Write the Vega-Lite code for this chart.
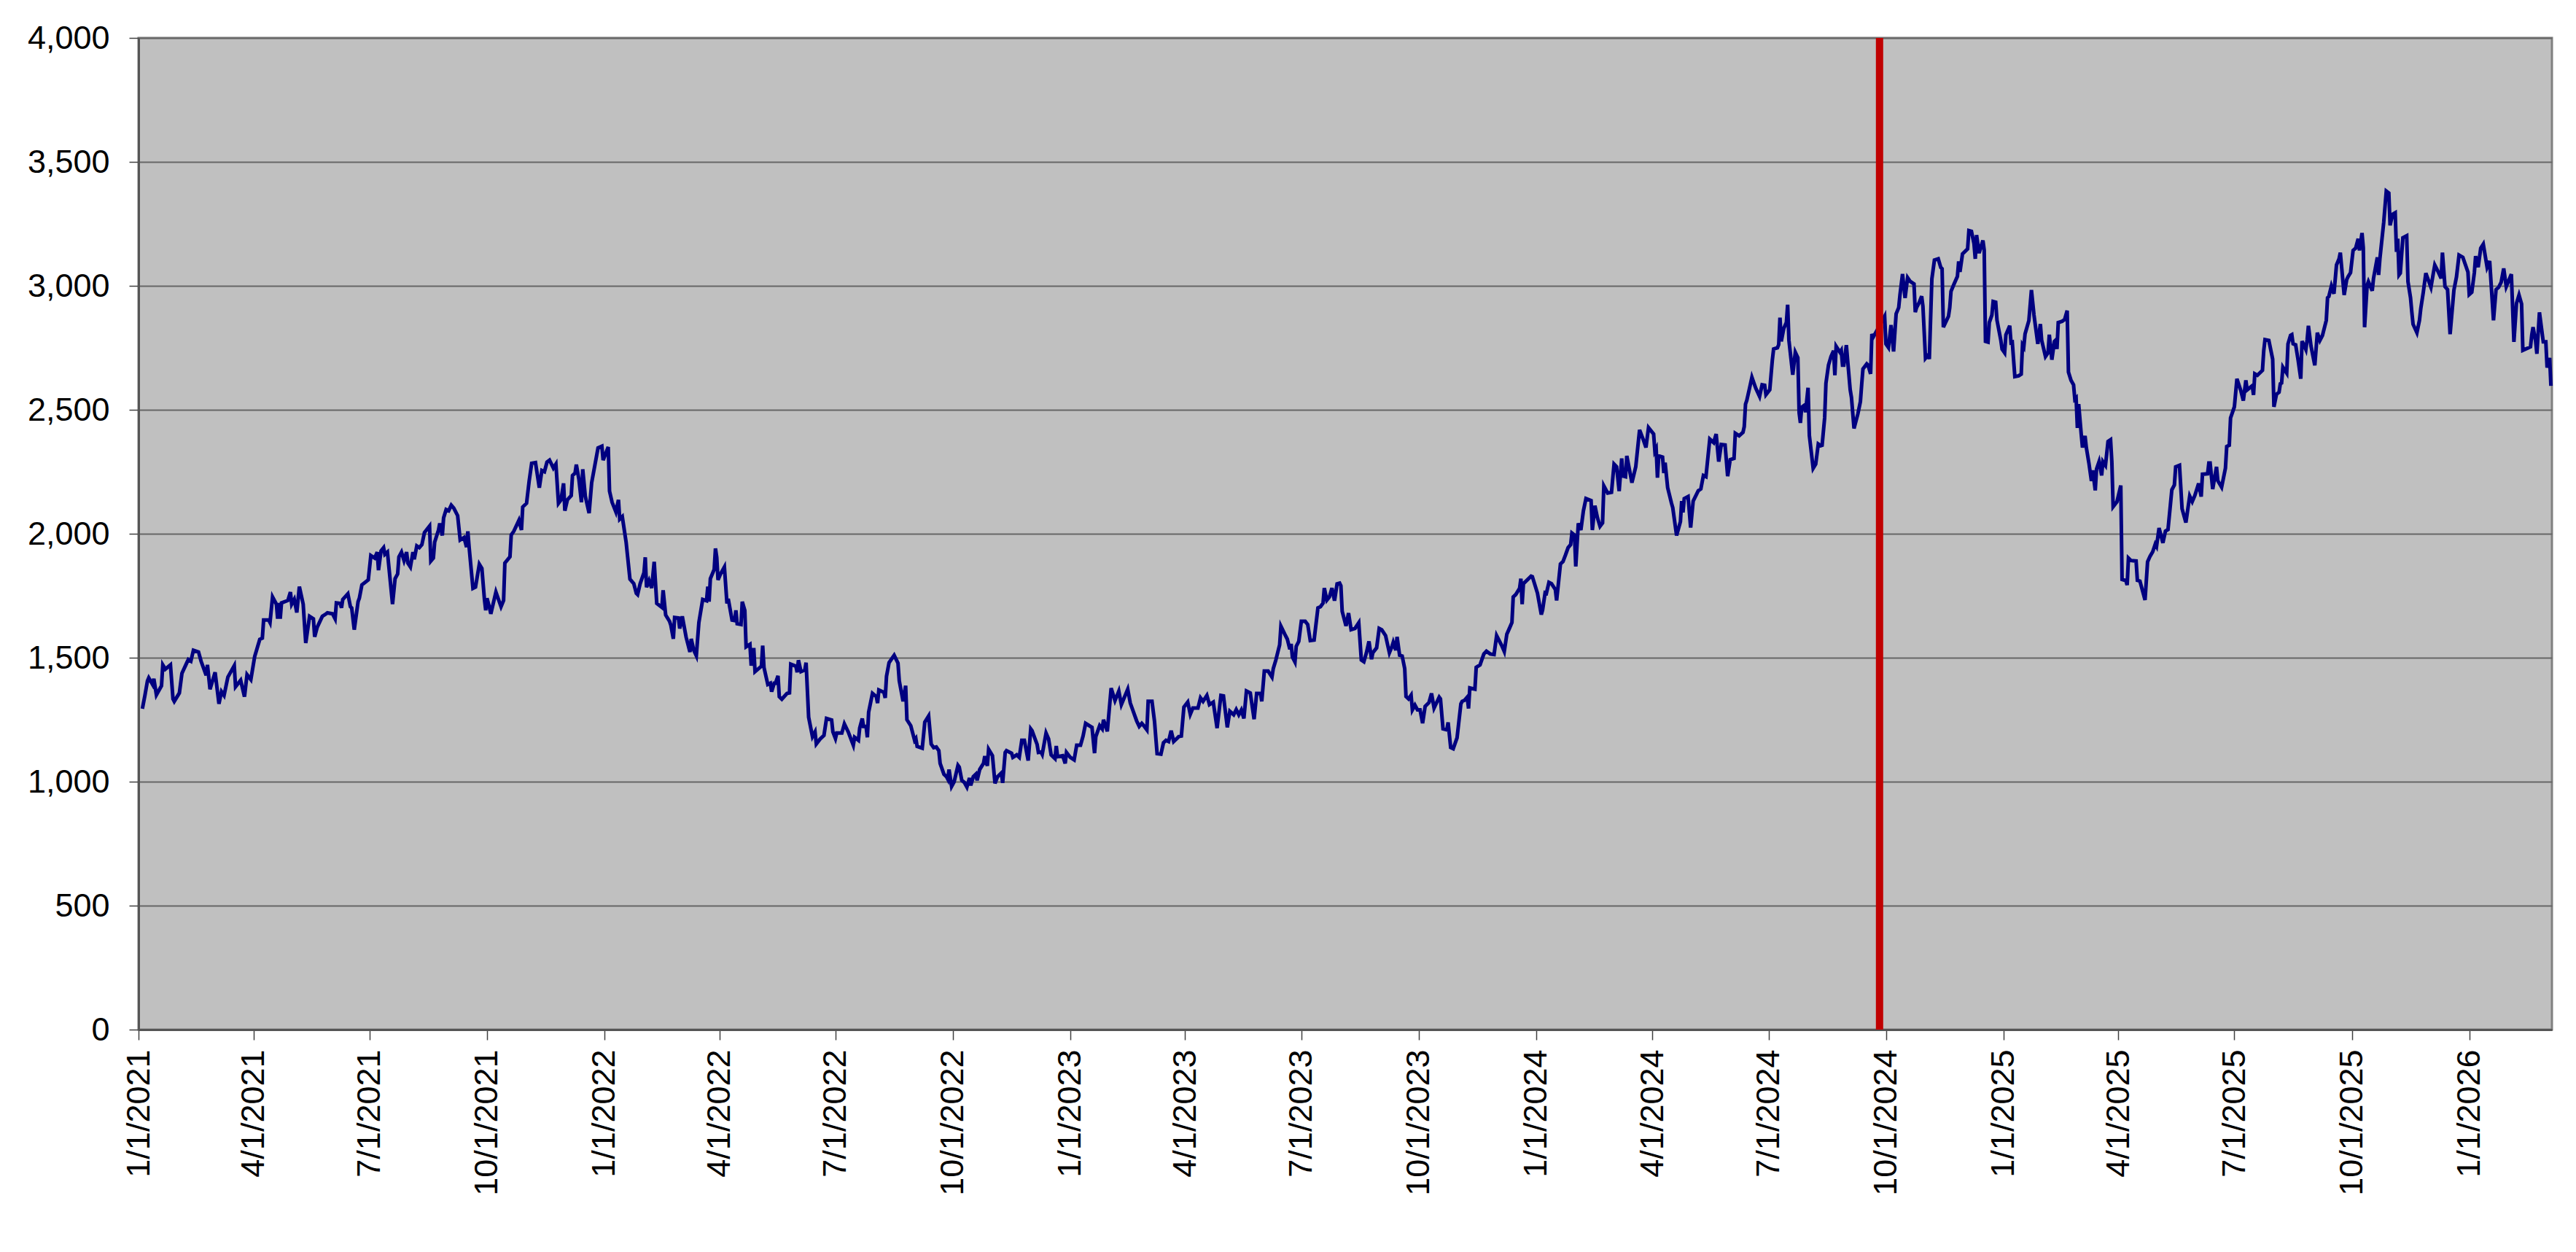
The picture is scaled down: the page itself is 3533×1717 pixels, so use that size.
{
"$schema":"https://vega.github.io/schema/vega-lite/v6.json",
"width":3310,"height":1360,
"autosize":"none",
"padding":{"left":190,"top":52,"right":33,"bottom":305},
"background":"white",
"config":{"font":"Liberation Sans","view":{"fill":"#C0C0C0","stroke":"#808080","strokeWidth":3},
"axis":{"labelFont":"Liberation Sans","labelFontSize":45,"labelColor":"#000000","labelLimit":500,"domainColor":"#555555","domainWidth":3,"tickColor":"#404040","tickWidth":1.5}},
"datasets":{
"marker":[{"d":"2024-09-26"}],
"series":[
{"d":"2021-01-04","v":1294},{"d":"2021-01-06","v":1348},{"d":"2021-01-08","v":1407},{"d":"2021-01-09","v":1419},{"d":"2021-01-12","v":1392},{"d":"2021-01-13","v":1415},{"d":"2021-01-15","v":1350},{"d":"2021-01-19","v":1387},{"d":"2021-01-20","v":1471},{"d":"2021-01-22","v":1454},{"d":"2021-01-26","v":1471},{"d":"2021-01-28","v":1334},{"d":"2021-01-29","v":1324},
{"d":"2021-02-02","v":1358},{"d":"2021-02-04","v":1437},{"d":"2021-02-09","v":1493},{"d":"2021-02-11","v":1486},{"d":"2021-02-13","v":1530},{"d":"2021-02-17","v":1523},{"d":"2021-02-19","v":1486},{"d":"2021-02-23","v":1429},{"d":"2021-02-24","v":1471},{"d":"2021-02-26","v":1373},
{"d":"2021-03-02","v":1441},{"d":"2021-03-05","v":1314},{"d":"2021-03-07","v":1363},{"d":"2021-03-09","v":1348},{"d":"2021-03-12","v":1422},{"d":"2021-03-17","v":1468},{"d":"2021-03-18","v":1383},{"d":"2021-03-22","v":1409},{"d":"2021-03-25","v":1343},{"d":"2021-03-27","v":1432},{"d":"2021-03-30","v":1412},
{"d":"2021-04-02","v":1505},{"d":"2021-04-06","v":1574},{"d":"2021-04-08","v":1579},{"d":"2021-04-09","v":1652},{"d":"2021-04-13","v":1652},{"d":"2021-04-14","v":1642},{"d":"2021-04-16","v":1745},{"d":"2021-04-19","v":1716},{"d":"2021-04-20","v":1657},{"d":"2021-04-21","v":1721},{"d":"2021-04-22","v":1657},{"d":"2021-04-23","v":1721},{"d":"2021-04-28","v":1731},{"d":"2021-04-30","v":1765},
{"d":"2021-05-01","v":1716},{"d":"2021-05-03","v":1735},{"d":"2021-05-05","v":1682},{"d":"2021-05-07","v":1787},{"d":"2021-05-10","v":1716},{"d":"2021-05-12","v":1559},{"d":"2021-05-15","v":1667},{"d":"2021-05-18","v":1657},{"d":"2021-05-19","v":1584},{"d":"2021-05-21","v":1623},{"d":"2021-05-25","v":1667},{"d":"2021-05-28","v":1677},{"d":"2021-05-29","v":1681},
{"d":"2021-06-02","v":1677},{"d":"2021-06-04","v":1657},{"d":"2021-06-05","v":1721},{"d":"2021-06-08","v":1719},{"d":"2021-06-09","v":1701},{"d":"2021-06-10","v":1735},{"d":"2021-06-14","v":1758},{"d":"2021-06-16","v":1706},{"d":"2021-06-17","v":1701},{"d":"2021-06-19","v":1613},{"d":"2021-06-22","v":1726},{"d":"2021-06-23","v":1740},{"d":"2021-06-25","v":1794},{"d":"2021-06-30","v":1814},
{"d":"2021-07-02","v":1912},{"d":"2021-07-05","v":1902},{"d":"2021-07-07","v":1926},{"d":"2021-07-08","v":1853},{"d":"2021-07-10","v":1931},{"d":"2021-07-12","v":1944},{"d":"2021-07-13","v":1917},{"d":"2021-07-15","v":1926},{"d":"2021-07-19","v":1716},{"d":"2021-07-21","v":1819},{"d":"2021-07-23","v":1838},{"d":"2021-07-24","v":1907},{"d":"2021-07-26","v":1926},{"d":"2021-07-28","v":1892},{"d":"2021-07-30","v":1926},{"d":"2021-07-31","v":1882},
{"d":"2021-08-02","v":1866},{"d":"2021-08-04","v":1926},{"d":"2021-08-05","v":1897},{"d":"2021-08-07","v":1951},{"d":"2021-08-09","v":1944},{"d":"2021-08-11","v":1956},{"d":"2021-08-13","v":2005},{"d":"2021-08-17","v":2031},{"d":"2021-08-18","v":1890},{"d":"2021-08-20","v":1902},{"d":"2021-08-21","v":1966},{"d":"2021-08-24","v":2015},{"d":"2021-08-25","v":2042},{"d":"2021-08-27","v":1993},{"d":"2021-08-28","v":2064},{"d":"2021-08-30","v":2098},
{"d":"2021-09-01","v":2093},{"d":"2021-09-03","v":2115},{"d":"2021-09-05","v":2103},{"d":"2021-09-08","v":2073},{"d":"2021-09-10","v":1975},{"d":"2021-09-13","v":1985},{"d":"2021-09-15","v":1946},{"d":"2021-09-16","v":2010},{"d":"2021-09-17","v":1946},{"d":"2021-09-20","v":1780},{"d":"2021-09-22","v":1785},{"d":"2021-09-25","v":1877},{"d":"2021-09-27","v":1860},{"d":"2021-09-29","v":1735},{"d":"2021-09-30","v":1691},
{"d":"2021-10-01","v":1740},{"d":"2021-10-03","v":1701},{"d":"2021-10-04","v":1677},{"d":"2021-10-08","v":1765},{"d":"2021-10-12","v":1706},{"d":"2021-10-14","v":1731},{"d":"2021-10-15","v":1882},{"d":"2021-10-19","v":1907},{"d":"2021-10-20","v":1995},{"d":"2021-10-22","v":2010},{"d":"2021-10-26","v":2054},{"d":"2021-10-28","v":2015},{"d":"2021-10-29","v":2108},
{"d":"2021-11-01","v":2123},{"d":"2021-11-03","v":2211},{"d":"2021-11-05","v":2284},{"d":"2021-11-08","v":2287},{"d":"2021-11-11","v":2186},{"d":"2021-11-13","v":2255},{"d":"2021-11-15","v":2250},{"d":"2021-11-17","v":2289},{"d":"2021-11-19","v":2297},{"d":"2021-11-22","v":2265},{"d":"2021-11-24","v":2281},{"d":"2021-11-26","v":2123},{"d":"2021-11-28","v":2137},{"d":"2021-11-30","v":2203},
{"d":"2021-12-01","v":2093},{"d":"2021-12-03","v":2137},{"d":"2021-12-06","v":2154},{"d":"2021-12-07","v":2235},{"d":"2021-12-09","v":2245},{"d":"2021-12-10","v":2279},{"d":"2021-12-12","v":2220},{"d":"2021-12-14","v":2127},{"d":"2021-12-15","v":2260},{"d":"2021-12-17","v":2152},{"d":"2021-12-20","v":2083},{"d":"2021-12-22","v":2206},{"d":"2021-12-27","v":2346},{"d":"2021-12-30","v":2353},{"d":"2021-12-31","v":2297},
{"d":"2022-01-04","v":2350},{"d":"2022-01-05","v":2172},{"d":"2022-01-07","v":2127},{"d":"2022-01-10","v":2088},{"d":"2022-01-12","v":2137},{"d":"2022-01-13","v":2059},{"d":"2022-01-15","v":2069},{"d":"2022-01-18","v":1966},{"d":"2022-01-21","v":1817},{"d":"2022-01-24","v":1799},{"d":"2022-01-26","v":1760},{"d":"2022-01-27","v":1755},{"d":"2022-01-29","v":1799},
{"d":"2022-02-01","v":1843},{"d":"2022-02-02","v":1905},{"d":"2022-02-03","v":1784},{"d":"2022-02-05","v":1811},{"d":"2022-02-07","v":1781},{"d":"2022-02-09","v":1887},{"d":"2022-02-11","v":1719},{"d":"2022-02-15","v":1703},{"d":"2022-02-16","v":1772},{"d":"2022-02-18","v":1672},{"d":"2022-02-21","v":1647},{"d":"2022-02-22","v":1632},{"d":"2022-02-24","v":1576},{"d":"2022-02-25","v":1662},{"d":"2022-02-28","v":1660},
{"d":"2022-03-01","v":1618},{"d":"2022-03-03","v":1667},{"d":"2022-03-06","v":1583},{"d":"2022-03-09","v":1523},{"d":"2022-03-10","v":1576},{"d":"2022-03-12","v":1530},{"d":"2022-03-14","v":1508},{"d":"2022-03-16","v":1642},{"d":"2022-03-19","v":1735},{"d":"2022-03-22","v":1730},{"d":"2022-03-23","v":1787},{"d":"2022-03-24","v":1726},{"d":"2022-03-25","v":1819},{"d":"2022-03-28","v":1856},{"d":"2022-03-29","v":1941},{"d":"2022-03-30","v":1905},{"d":"2022-03-31","v":1814},
{"d":"2022-04-02","v":1838},{"d":"2022-04-05","v":1866},{"d":"2022-04-07","v":1719},{"d":"2022-04-08","v":1738},{"d":"2022-04-11","v":1652},{"d":"2022-04-13","v":1650},{"d":"2022-04-14","v":1691},{"d":"2022-04-15","v":1637},{"d":"2022-04-18","v":1634},{"d":"2022-04-19","v":1726},{"d":"2022-04-21","v":1691},{"d":"2022-04-22","v":1544},{"d":"2022-04-25","v":1554},{"d":"2022-04-26","v":1468},{"d":"2022-04-28","v":1539},{"d":"2022-04-29","v":1444},
{"d":"2022-05-04","v":1466},{"d":"2022-05-05","v":1549},{"d":"2022-05-06","v":1461},{"d":"2022-05-09","v":1392},{"d":"2022-05-11","v":1397},{"d":"2022-05-12","v":1363},{"d":"2022-05-14","v":1397},{"d":"2022-05-15","v":1397},{"d":"2022-05-17","v":1427},{"d":"2022-05-18","v":1343},{"d":"2022-05-20","v":1333},{"d":"2022-05-24","v":1356},{"d":"2022-05-26","v":1358},{"d":"2022-05-27","v":1474},{"d":"2022-05-31","v":1466},
{"d":"2022-06-01","v":1441},{"d":"2022-06-02","v":1490},{"d":"2022-06-04","v":1444},{"d":"2022-06-07","v":1451},{"d":"2022-06-08","v":1480},{"d":"2022-06-10","v":1260},{"d":"2022-06-13","v":1182},{"d":"2022-06-15","v":1201},{"d":"2022-06-16","v":1152},{"d":"2022-06-19","v":1172},{"d":"2022-06-22","v":1187},{"d":"2022-06-24","v":1255},{"d":"2022-06-28","v":1249},{"d":"2022-06-29","v":1201},
{"d":"2022-07-01","v":1174},{"d":"2022-07-02","v":1196},{"d":"2022-07-06","v":1196},{"d":"2022-07-08","v":1233},{"d":"2022-07-11","v":1201},{"d":"2022-07-15","v":1147},{"d":"2022-07-16","v":1179},{"d":"2022-07-19","v":1167},{"d":"2022-07-20","v":1216},{"d":"2022-07-22","v":1255},{"d":"2022-07-23","v":1223},{"d":"2022-07-25","v":1223},{"d":"2022-07-26","v":1179},{"d":"2022-07-27","v":1280},{"d":"2022-07-30","v":1356},
{"d":"2022-08-02","v":1343},{"d":"2022-08-03","v":1317},{"d":"2022-08-04","v":1370},{"d":"2022-08-08","v":1360},{"d":"2022-08-09","v":1338},{"d":"2022-08-10","v":1425},{"d":"2022-08-12","v":1480},{"d":"2022-08-16","v":1510},{"d":"2022-08-19","v":1478},{"d":"2022-08-20","v":1407},{"d":"2022-08-23","v":1324},{"d":"2022-08-25","v":1387},{"d":"2022-08-26","v":1250},{"d":"2022-08-29","v":1226},
{"d":"2022-09-01","v":1167},{"d":"2022-09-02","v":1174},{"d":"2022-09-03","v":1142},{"d":"2022-09-07","v":1135},{"d":"2022-09-08","v":1186},{"d":"2022-09-09","v":1240},{"d":"2022-09-12","v":1265},{"d":"2022-09-14","v":1152},{"d":"2022-09-16","v":1137},{"d":"2022-09-18","v":1140},{"d":"2022-09-20","v":1125},{"d":"2022-09-21","v":1074},{"d":"2022-09-24","v":1030},{"d":"2022-09-26","v":1020},{"d":"2022-09-27","v":1010},{"d":"2022-09-28","v":1049},{"d":"2022-09-30","v":981},
{"d":"2022-10-02","v":1000},{"d":"2022-10-05","v":1066},{"d":"2022-10-06","v":1059},{"d":"2022-10-08","v":1005},{"d":"2022-10-10","v":997},{"d":"2022-10-12","v":978},{"d":"2022-10-14","v":1015},{"d":"2022-10-15","v":985},{"d":"2022-10-17","v":1020},{"d":"2022-10-19","v":1030},{"d":"2022-10-20","v":1005},{"d":"2022-10-22","v":1049},{"d":"2022-10-25","v":1074},{"d":"2022-10-26","v":1103},{"d":"2022-10-28","v":1064},{"d":"2022-10-29","v":1131},
{"d":"2022-11-01","v":1105},{"d":"2022-11-03","v":993},{"d":"2022-11-05","v":1020},{"d":"2022-11-08","v":1035},{"d":"2022-11-09","v":995},{"d":"2022-11-11","v":1118},{"d":"2022-11-12","v":1125},{"d":"2022-11-16","v":1115},{"d":"2022-11-17","v":1098},{"d":"2022-11-20","v":1108},{"d":"2022-11-22","v":1098},{"d":"2022-11-24","v":1167},{"d":"2022-11-26","v":1167},{"d":"2022-11-29","v":1085},
{"d":"2022-12-01","v":1213},{"d":"2022-12-02","v":1206},{"d":"2022-12-06","v":1150},{"d":"2022-12-07","v":1118},{"d":"2022-12-09","v":1120},{"d":"2022-12-10","v":1110},{"d":"2022-12-13","v":1196},{"d":"2022-12-15","v":1172},{"d":"2022-12-17","v":1108},{"d":"2022-12-20","v":1093},{"d":"2022-12-21","v":1144},{"d":"2022-12-22","v":1101},{"d":"2022-12-26","v":1105},{"d":"2022-12-28","v":1074},{"d":"2022-12-29","v":1118},
{"d":"2023-01-01","v":1098},{"d":"2023-01-04","v":1088},{"d":"2023-01-06","v":1147},{"d":"2023-01-09","v":1147},{"d":"2023-01-11","v":1184},{"d":"2023-01-13","v":1235},{"d":"2023-01-18","v":1219},{"d":"2023-01-20","v":1115},{"d":"2023-01-21","v":1182},{"d":"2023-01-24","v":1226},{"d":"2023-01-26","v":1213},{"d":"2023-01-27","v":1250},{"d":"2023-01-30","v":1203},
{"d":"2023-02-02","v":1377},{"d":"2023-02-05","v":1327},{"d":"2023-02-08","v":1365},{"d":"2023-02-10","v":1311},{"d":"2023-02-15","v":1373},{"d":"2023-02-17","v":1317},{"d":"2023-02-22","v":1245},{"d":"2023-02-24","v":1223},{"d":"2023-02-26","v":1235},{"d":"2023-02-28","v":1223},
{"d":"2023-03-02","v":1209},{"d":"2023-03-03","v":1324},{"d":"2023-03-06","v":1324},{"d":"2023-03-08","v":1242},{"d":"2023-03-10","v":1113},{"d":"2023-03-13","v":1111},{"d":"2023-03-15","v":1157},{"d":"2023-03-17","v":1167},{"d":"2023-03-19","v":1162},{"d":"2023-03-21","v":1206},{"d":"2023-03-23","v":1162},{"d":"2023-03-27","v":1182},{"d":"2023-03-29","v":1184},{"d":"2023-03-31","v":1301},
{"d":"2023-04-03","v":1321},{"d":"2023-04-05","v":1272},{"d":"2023-04-07","v":1297},{"d":"2023-04-11","v":1297},{"d":"2023-04-13","v":1338},{"d":"2023-04-15","v":1324},{"d":"2023-04-18","v":1348},{"d":"2023-04-20","v":1311},{"d":"2023-04-23","v":1321},{"d":"2023-04-26","v":1216},{"d":"2023-04-29","v":1348},
{"d":"2023-05-01","v":1346},{"d":"2023-05-04","v":1219},{"d":"2023-05-06","v":1284},{"d":"2023-05-09","v":1270},{"d":"2023-05-11","v":1291},{"d":"2023-05-13","v":1270},{"d":"2023-05-15","v":1289},{"d":"2023-05-17","v":1255},{"d":"2023-05-19","v":1366},{"d":"2023-05-22","v":1358},{"d":"2023-05-25","v":1252},{"d":"2023-05-27","v":1356},{"d":"2023-05-30","v":1356},{"d":"2023-05-31","v":1324},
{"d":"2023-06-02","v":1446},{"d":"2023-06-05","v":1446},{"d":"2023-06-08","v":1422},{"d":"2023-06-09","v":1456},{"d":"2023-06-11","v":1490},{"d":"2023-06-14","v":1552},{"d":"2023-06-15","v":1627},{"d":"2023-06-18","v":1595},{"d":"2023-06-20","v":1575},{"d":"2023-06-22","v":1534},{"d":"2023-06-23","v":1556},{"d":"2023-06-24","v":1503},{"d":"2023-06-26","v":1483},{"d":"2023-06-27","v":1546},{"d":"2023-06-29","v":1566},
{"d":"2023-07-01","v":1647},{"d":"2023-07-04","v":1647},{"d":"2023-07-06","v":1634},{"d":"2023-07-08","v":1569},{"d":"2023-07-11","v":1571},{"d":"2023-07-14","v":1701},{"d":"2023-07-16","v":1706},{"d":"2023-07-18","v":1720},{"d":"2023-07-19","v":1781},{"d":"2023-07-21","v":1732},{"d":"2023-07-23","v":1745},{"d":"2023-07-25","v":1781},{"d":"2023-07-27","v":1730},{"d":"2023-07-29","v":1798},{"d":"2023-07-31","v":1801},
{"d":"2023-08-01","v":1790},{"d":"2023-08-02","v":1687},{"d":"2023-08-05","v":1628},{"d":"2023-08-07","v":1680},{"d":"2023-08-09","v":1613},{"d":"2023-08-12","v":1618},{"d":"2023-08-15","v":1641},{"d":"2023-08-17","v":1491},{"d":"2023-08-19","v":1484},{"d":"2023-08-21","v":1520},{"d":"2023-08-23","v":1566},{"d":"2023-08-25","v":1494},{"d":"2023-08-26","v":1520},{"d":"2023-08-29","v":1540},{"d":"2023-08-31","v":1618},
{"d":"2023-09-02","v":1613},{"d":"2023-09-05","v":1589},{"d":"2023-09-08","v":1520},{"d":"2023-09-10","v":1545},{"d":"2023-09-11","v":1562},{"d":"2023-09-13","v":1530},{"d":"2023-09-14","v":1584},{"d":"2023-09-16","v":1510},{"d":"2023-09-18","v":1507},{"d":"2023-09-20","v":1456},{"d":"2023-09-21","v":1344},{"d":"2023-09-23","v":1334},{"d":"2023-09-25","v":1349},{"d":"2023-09-26","v":1290},{"d":"2023-09-28","v":1309},{"d":"2023-09-30","v":1290},
{"d":"2023-10-02","v":1290},{"d":"2023-10-04","v":1236},{"d":"2023-10-06","v":1304},{"d":"2023-10-09","v":1319},{"d":"2023-10-11","v":1356},{"d":"2023-10-13","v":1297},{"d":"2023-10-17","v":1341},{"d":"2023-10-18","v":1334},{"d":"2023-10-20","v":1213},{"d":"2023-10-23","v":1209},{"d":"2023-10-24","v":1239},{"d":"2023-10-26","v":1138},{"d":"2023-10-28","v":1133},{"d":"2023-10-31","v":1177},
{"d":"2023-11-03","v":1314},{"d":"2023-11-04","v":1324},{"d":"2023-11-06","v":1329},{"d":"2023-11-08","v":1341},{"d":"2023-11-09","v":1295},{"d":"2023-11-10","v":1378},{"d":"2023-11-14","v":1373},{"d":"2023-11-15","v":1461},{"d":"2023-11-18","v":1471},{"d":"2023-11-21","v":1515},{"d":"2023-11-23","v":1526},{"d":"2023-11-26","v":1515},{"d":"2023-11-29","v":1513},
{"d":"2023-12-01","v":1589},{"d":"2023-12-05","v":1549},{"d":"2023-12-07","v":1525},{"d":"2023-12-09","v":1595},{"d":"2023-12-11","v":1618},{"d":"2023-12-13","v":1642},{"d":"2023-12-14","v":1745},{"d":"2023-12-16","v":1755},{"d":"2023-12-19","v":1780},{"d":"2023-12-20","v":1819},{"d":"2023-12-21","v":1716},{"d":"2023-12-22","v":1799},{"d":"2023-12-28","v":1829},{"d":"2023-12-29","v":1827},
{"d":"2024-01-02","v":1760},{"d":"2024-01-05","v":1674},{"d":"2024-01-06","v":1692},{"d":"2024-01-08","v":1762},{"d":"2024-01-09","v":1760},{"d":"2024-01-11","v":1804},{"d":"2024-01-13","v":1799},{"d":"2024-01-16","v":1775},{"d":"2024-01-17","v":1731},{"d":"2024-01-20","v":1878},{"d":"2024-01-22","v":1888},{"d":"2024-01-24","v":1915},{"d":"2024-01-26","v":1944},{"d":"2024-01-28","v":1956},{"d":"2024-01-29","v":2003},{"d":"2024-01-31","v":1995},
{"d":"2024-02-01","v":1868},{"d":"2024-02-03","v":2042},{"d":"2024-02-05","v":2015},{"d":"2024-02-07","v":2093},{"d":"2024-02-09","v":2142},{"d":"2024-02-13","v":2134},{"d":"2024-02-14","v":2015},{"d":"2024-02-16","v":2113},{"d":"2024-02-18","v":2064},{"d":"2024-02-20","v":2030},{"d":"2024-02-22","v":2044},{"d":"2024-02-23","v":2193},{"d":"2024-02-26","v":2164},{"d":"2024-02-29","v":2167},
{"d":"2024-03-02","v":2281},{"d":"2024-03-04","v":2270},{"d":"2024-03-06","v":2172},{"d":"2024-03-08","v":2304},{"d":"2024-03-09","v":2233},{"d":"2024-03-11","v":2230},{"d":"2024-03-12","v":2314},{"d":"2024-03-16","v":2206},{"d":"2024-03-19","v":2270},{"d":"2024-03-22","v":2419},{"d":"2024-03-25","v":2378},{"d":"2024-03-27","v":2348},{"d":"2024-03-29","v":2428},
{"d":"2024-04-02","v":2402},{"d":"2024-04-03","v":2333},{"d":"2024-04-04","v":2343},{"d":"2024-04-05","v":2226},{"d":"2024-04-06","v":2314},{"d":"2024-04-09","v":2309},{"d":"2024-04-10","v":2245},{"d":"2024-04-11","v":2287},{"d":"2024-04-13","v":2186},{"d":"2024-04-16","v":2123},{"d":"2024-04-17","v":2105},{"d":"2024-04-20","v":1993},{"d":"2024-04-23","v":2049},{"d":"2024-04-24","v":2132},{"d":"2024-04-25","v":2086},{"d":"2024-04-26","v":2142},{"d":"2024-04-29","v":2150},
{"d":"2024-05-01","v":2025},{"d":"2024-05-03","v":2132},{"d":"2024-05-07","v":2174},{"d":"2024-05-09","v":2181},{"d":"2024-05-11","v":2235},{"d":"2024-05-13","v":2230},{"d":"2024-05-16","v":2382},{"d":"2024-05-19","v":2368},{"d":"2024-05-21","v":2402},{"d":"2024-05-23","v":2291},{"d":"2024-05-25","v":2360},{"d":"2024-05-28","v":2358},{"d":"2024-05-30","v":2232},
{"d":"2024-06-01","v":2299},{"d":"2024-06-04","v":2304},{"d":"2024-06-05","v":2405},{"d":"2024-06-08","v":2395},{"d":"2024-06-11","v":2409},{"d":"2024-06-12","v":2432},{"d":"2024-06-13","v":2523},{"d":"2024-06-14","v":2538},{"d":"2024-06-16","v":2584},{"d":"2024-06-18","v":2631},{"d":"2024-06-21","v":2587},{"d":"2024-06-24","v":2554},{"d":"2024-06-26","v":2601},{"d":"2024-06-28","v":2599},{"d":"2024-06-29","v":2561},
{"d":"2024-07-02","v":2581},{"d":"2024-07-04","v":2700},{"d":"2024-07-05","v":2745},{"d":"2024-07-08","v":2750},{"d":"2024-07-09","v":2763},{"d":"2024-07-10","v":2872},{"d":"2024-07-11","v":2776},{"d":"2024-07-13","v":2829},{"d":"2024-07-15","v":2852},{"d":"2024-07-16","v":2924},{"d":"2024-07-17","v":2781},{"d":"2024-07-20","v":2641},{"d":"2024-07-22","v":2732},{"d":"2024-07-24","v":2710},{"d":"2024-07-25","v":2488},{"d":"2024-07-26","v":2447},{"d":"2024-07-27","v":2510},{"d":"2024-07-29","v":2518},{"d":"2024-07-30","v":2490},
{"d":"2024-08-01","v":2589},{"d":"2024-08-02","v":2397},{"d":"2024-08-05","v":2264},{"d":"2024-08-07","v":2281},{"d":"2024-08-09","v":2362},{"d":"2024-08-11","v":2355},{"d":"2024-08-12","v":2357},{"d":"2024-08-14","v":2468},{"d":"2024-08-15","v":2607},{"d":"2024-08-17","v":2680},{"d":"2024-08-19","v":2715},{"d":"2024-08-21","v":2738},{"d":"2024-08-22","v":2639},{"d":"2024-08-23","v":2756},{"d":"2024-08-26","v":2732},{"d":"2024-08-27","v":2740},{"d":"2024-08-28","v":2680},{"d":"2024-08-29","v":2680},{"d":"2024-08-31","v":2761},
{"d":"2024-09-01","v":2700},{"d":"2024-09-03","v":2581},{"d":"2024-09-04","v":2550},{"d":"2024-09-06","v":2425},{"d":"2024-09-09","v":2483},{"d":"2024-09-11","v":2533},{"d":"2024-09-12","v":2601},{"d":"2024-09-13","v":2665},{"d":"2024-09-16","v":2685},{"d":"2024-09-17","v":2680},{"d":"2024-09-19","v":2645},{"d":"2024-09-20","v":2806},{"d":"2024-09-21","v":2793},{"d":"2024-09-23","v":2811},{"d":"2024-09-30","v":2877},
{"d":"2024-10-01","v":2766},{"d":"2024-10-03","v":2751},{"d":"2024-10-05","v":2842},{"d":"2024-10-07","v":2735},{"d":"2024-10-09","v":2887},{"d":"2024-10-11","v":2912},{"d":"2024-10-12","v":2963},{"d":"2024-10-14","v":3048},{"d":"2024-10-16","v":2951},{"d":"2024-10-18","v":3033},{"d":"2024-10-20","v":3018},{"d":"2024-10-23","v":3008},{"d":"2024-10-24","v":2894},{"d":"2024-10-25","v":2912},{"d":"2024-10-27","v":2932},{"d":"2024-10-29","v":2958},{"d":"2024-10-30","v":2917},
{"d":"2024-11-01","v":2708},{"d":"2024-11-03","v":2720},{"d":"2024-11-04","v":2705},{"d":"2024-11-06","v":3028},{"d":"2024-11-08","v":3104},{"d":"2024-11-11","v":3109},{"d":"2024-11-13","v":3074},{"d":"2024-11-14","v":3069},{"d":"2024-11-15","v":2833},{"d":"2024-11-19","v":2877},{"d":"2024-11-20","v":2912},{"d":"2024-11-21","v":2978},{"d":"2024-11-23","v":3003},{"d":"2024-11-26","v":3038},{"d":"2024-11-27","v":3099},{"d":"2024-11-28","v":3056},{"d":"2024-11-30","v":3129},
{"d":"2024-12-04","v":3149},{"d":"2024-12-05","v":3223},{"d":"2024-12-07","v":3220},{"d":"2024-12-09","v":3170},{"d":"2024-12-10","v":3109},{"d":"2024-12-11","v":3205},{"d":"2024-12-13","v":3132},{"d":"2024-12-14","v":3149},{"d":"2024-12-16","v":3183},{"d":"2024-12-17","v":3144},{"d":"2024-12-18","v":2776},{"d":"2024-12-20","v":2773},{"d":"2024-12-21","v":2852},{"d":"2024-12-23","v":2882},{"d":"2024-12-24","v":2937},{"d":"2024-12-26","v":2934},{"d":"2024-12-27","v":2862},{"d":"2024-12-30","v":2781},{"d":"2024-12-31","v":2745},
{"d":"2025-01-02","v":2730},{"d":"2025-01-03","v":2803},{"d":"2025-01-06","v":2839},{"d":"2025-01-07","v":2771},{"d":"2025-01-08","v":2773},{"d":"2025-01-10","v":2634},{"d":"2025-01-13","v":2637},{"d":"2025-01-15","v":2644},{"d":"2025-01-16","v":2761},{"d":"2025-01-17","v":2753},{"d":"2025-01-18","v":2806},{"d":"2025-01-21","v":2860},{"d":"2025-01-23","v":2983},{"d":"2025-01-25","v":2882},{"d":"2025-01-28","v":2766},{"d":"2025-01-30","v":2846},{"d":"2025-01-31","v":2781},
{"d":"2025-02-03","v":2715},{"d":"2025-02-05","v":2730},{"d":"2025-02-06","v":2803},{"d":"2025-02-08","v":2702},{"d":"2025-02-10","v":2776},{"d":"2025-02-11","v":2781},{"d":"2025-02-12","v":2745},{"d":"2025-02-13","v":2852},{"d":"2025-02-16","v":2857},{"d":"2025-02-18","v":2864},{"d":"2025-02-20","v":2900},{"d":"2025-02-21","v":2652},{"d":"2025-02-23","v":2619},{"d":"2025-02-25","v":2601},{"d":"2025-02-26","v":2543},{"d":"2025-02-27","v":2548},{"d":"2025-02-28","v":2427},
{"d":"2025-03-01","v":2523},{"d":"2025-03-03","v":2402},{"d":"2025-03-04","v":2348},{"d":"2025-03-06","v":2395},{"d":"2025-03-07","v":2348},{"d":"2025-03-09","v":2286},{"d":"2025-03-11","v":2213},{"d":"2025-03-12","v":2256},{"d":"2025-03-14","v":2175},{"d":"2025-03-15","v":2261},{"d":"2025-03-17","v":2291},{"d":"2025-03-19","v":2235},{"d":"2025-03-20","v":2291},{"d":"2025-03-22","v":2276},{"d":"2025-03-24","v":2372},{"d":"2025-03-26","v":2379},{"d":"2025-03-27","v":2291},{"d":"2025-03-28","v":2109},{"d":"2025-03-31","v":2129},
{"d":"2025-04-03","v":2195},{"d":"2025-04-04","v":1816},{"d":"2025-04-07","v":1811},{"d":"2025-04-08","v":1793},{"d":"2025-04-09","v":1902},{"d":"2025-04-11","v":1892},{"d":"2025-04-15","v":1890},{"d":"2025-04-16","v":1812},{"d":"2025-04-18","v":1809},{"d":"2025-04-22","v":1733},{"d":"2025-04-24","v":1887},{"d":"2025-04-26","v":1910},{"d":"2025-04-28","v":1927},{"d":"2025-04-30","v":1958},
{"d":"2025-05-01","v":1949},{"d":"2025-05-03","v":2023},{"d":"2025-05-06","v":1963},{"d":"2025-05-08","v":2011},{"d":"2025-05-10","v":2017},{"d":"2025-05-13","v":2177},{"d":"2025-05-15","v":2197},{"d":"2025-05-16","v":2270},{"d":"2025-05-19","v":2276},{"d":"2025-05-21","v":2101},{"d":"2025-05-24","v":2045},{"d":"2025-05-27","v":2152},{"d":"2025-05-29","v":2130},{"d":"2025-05-31","v":2154},
{"d":"2025-06-03","v":2203},{"d":"2025-06-05","v":2150},{"d":"2025-06-06","v":2240},{"d":"2025-06-10","v":2242},{"d":"2025-06-11","v":2285},{"d":"2025-06-12","v":2285},{"d":"2025-06-14","v":2180},{"d":"2025-06-17","v":2270},{"d":"2025-06-18","v":2214},{"d":"2025-06-21","v":2188},{"d":"2025-06-24","v":2265},{"d":"2025-06-25","v":2352},{"d":"2025-06-27","v":2357},{"d":"2025-06-28","v":2467},
{"d":"2025-07-01","v":2512},{"d":"2025-07-03","v":2625},{"d":"2025-07-06","v":2578},{"d":"2025-07-08","v":2537},{"d":"2025-07-10","v":2619},{"d":"2025-07-11","v":2580},{"d":"2025-07-15","v":2597},{"d":"2025-07-16","v":2560},{"d":"2025-07-17","v":2645},{"d":"2025-07-19","v":2639},{"d":"2025-07-23","v":2659},{"d":"2025-07-24","v":2738},{"d":"2025-07-25","v":2783},{"d":"2025-07-28","v":2780},{"d":"2025-07-31","v":2704},
{"d":"2025-08-01","v":2512},{"d":"2025-08-03","v":2563},{"d":"2025-08-05","v":2571},{"d":"2025-08-06","v":2605},{"d":"2025-08-07","v":2608},{"d":"2025-08-08","v":2672},{"d":"2025-08-11","v":2648},{"d":"2025-08-12","v":2766},{"d":"2025-08-14","v":2800},{"d":"2025-08-15","v":2803},{"d":"2025-08-16","v":2766},{"d":"2025-08-18","v":2762},{"d":"2025-08-20","v":2698},{"d":"2025-08-22","v":2625},{"d":"2025-08-23","v":2777},{"d":"2025-08-24","v":2766},{"d":"2025-08-26","v":2743},{"d":"2025-08-27","v":2783},{"d":"2025-08-28","v":2839},{"d":"2025-08-30","v":2758},
{"d":"2025-09-02","v":2679},{"d":"2025-09-04","v":2811},{"d":"2025-09-06","v":2780},{"d":"2025-09-08","v":2800},{"d":"2025-09-11","v":2861},{"d":"2025-09-12","v":2952},{"d":"2025-09-13","v":2957},{"d":"2025-09-15","v":2999},{"d":"2025-09-17","v":2968},{"d":"2025-09-19","v":3084},{"d":"2025-09-21","v":3109},{"d":"2025-09-22","v":3134},{"d":"2025-09-25","v":2963},{"d":"2025-09-27","v":3025},{"d":"2025-09-28","v":3036},{"d":"2025-09-30","v":3053},
{"d":"2025-10-02","v":3143},{"d":"2025-10-04","v":3152},{"d":"2025-10-06","v":3190},{"d":"2025-10-07","v":3143},{"d":"2025-10-09","v":3213},{"d":"2025-10-10","v":3154},{"d":"2025-10-11","v":2833},{"d":"2025-10-13","v":3002},{"d":"2025-10-14","v":3017},{"d":"2025-10-17","v":2980},{"d":"2025-10-18","v":3030},{"d":"2025-10-21","v":3115},{"d":"2025-10-22","v":3044},{"d":"2025-10-23","v":3109},{"d":"2025-10-26","v":3256},{"d":"2025-10-28","v":3382},{"d":"2025-10-30","v":3374},{"d":"2025-10-31","v":3244},
{"d":"2025-11-02","v":3289},{"d":"2025-11-04","v":3295},{"d":"2025-11-05","v":3137},{"d":"2025-11-06","v":3190},{"d":"2025-11-07","v":3044},{"d":"2025-11-08","v":3051},{"d":"2025-11-10","v":3194},{"d":"2025-11-13","v":3202},{"d":"2025-11-14","v":3017},{"d":"2025-11-16","v":2952},{"d":"2025-11-17","v":2895},{"d":"2025-11-18","v":2845},{"d":"2025-11-21","v":2811},{"d":"2025-11-23","v":2861},{"d":"2025-11-24","v":2907},{"d":"2025-11-26","v":2974},{"d":"2025-11-28","v":3051},
{"d":"2025-12-02","v":2994},{"d":"2025-12-04","v":3055},{"d":"2025-12-05","v":3084},{"d":"2025-12-07","v":3064},{"d":"2025-12-10","v":3030},{"d":"2025-12-11","v":3134},{"d":"2025-12-13","v":2997},{"d":"2025-12-15","v":2985},{"d":"2025-12-17","v":2805},{"d":"2025-12-20","v":2983},{"d":"2025-12-22","v":3036},{"d":"2025-12-24","v":3124},{"d":"2025-12-27","v":3115},{"d":"2025-12-31","v":3055},
{"d":"2026-01-01","v":2965},{"d":"2026-01-03","v":2974},{"d":"2026-01-05","v":3053},{"d":"2026-01-06","v":3120},{"d":"2026-01-08","v":3075},{"d":"2026-01-10","v":3152},{"d":"2026-01-12","v":3168},{"d":"2026-01-15","v":3075},{"d":"2026-01-17","v":3100},{"d":"2026-01-20","v":2861},{"d":"2026-01-22","v":2985},{"d":"2026-01-24","v":2994},{"d":"2026-01-26","v":3014},{"d":"2026-01-28","v":3070},{"d":"2026-01-30","v":2997},
{"d":"2026-02-03","v":3047},{"d":"2026-02-05","v":2774},{"d":"2026-02-07","v":2929},{"d":"2026-02-09","v":2963},{"d":"2026-02-11","v":2927},{"d":"2026-02-12","v":2740},{"d":"2026-02-16","v":2749},{"d":"2026-02-18","v":2754},{"d":"2026-02-19","v":2803},{"d":"2026-02-20","v":2833},{"d":"2026-02-22","v":2777},{"d":"2026-02-23","v":2726},{"d":"2026-02-25","v":2893},{"d":"2026-02-28","v":2774},
{"d":"2026-03-02","v":2774},{"d":"2026-03-03","v":2670},{"d":"2026-03-05","v":2709},{"d":"2026-03-06","v":2597}
]},
"layer":[
{"data":{"name":"series"},
"mark":{"type":"line","color":"#000080","strokeWidth":5,"interpolate":"linear"},
"encoding":{
"x":{"field":"d","type":"temporal","title":null,
"scale":{"type":"utc","domain":[{"year":2021,"month":1,"date":1,"utc":true},{"year":2026,"month":3,"date":6,"hours":19,"utc":true}]},
"axis":{"values":[
{"year":2021,"month":1,"date":1,"utc":true},{"year":2021,"month":4,"date":1,"utc":true},{"year":2021,"month":7,"date":1,"utc":true},{"year":2021,"month":10,"date":1,"utc":true},
{"year":2022,"month":1,"date":1,"utc":true},{"year":2022,"month":4,"date":1,"utc":true},{"year":2022,"month":7,"date":1,"utc":true},{"year":2022,"month":10,"date":1,"utc":true},
{"year":2023,"month":1,"date":1,"utc":true},{"year":2023,"month":4,"date":1,"utc":true},{"year":2023,"month":7,"date":1,"utc":true},{"year":2023,"month":10,"date":1,"utc":true},
{"year":2024,"month":1,"date":1,"utc":true},{"year":2024,"month":4,"date":1,"utc":true},{"year":2024,"month":7,"date":1,"utc":true},{"year":2024,"month":10,"date":1,"utc":true},
{"year":2025,"month":1,"date":1,"utc":true},{"year":2025,"month":4,"date":1,"utc":true},{"year":2025,"month":7,"date":1,"utc":true},{"year":2025,"month":10,"date":1,"utc":true},
{"year":2026,"month":1,"date":1,"utc":true}],
"labelExpr":"utcFormat(datum.value, '%-m/%-d/%Y')","labelAngle":270,"tickSize":14,"labelPadding":13,"grid":false,"labelOverlap":false,"labelFlush":false}},
"y":{"field":"v","type":"quantitative","title":null,
"scale":{"domain":[0,4000],"nice":false},
"axis":{"values":[0,500,1000,1500,2000,2500,3000,3500,4000],"format":",d","tickSize":13,"labelPadding":27,"grid":true,"gridColor":"#666666","gridWidth":2,"labelFlush":false}}
}},
{"data":{"name":"marker"},
"mark":{"type":"rule","color":"#C00000","strokeWidth":10},
"encoding":{"x":{"field":"d","type":"temporal"}}}
]
}
